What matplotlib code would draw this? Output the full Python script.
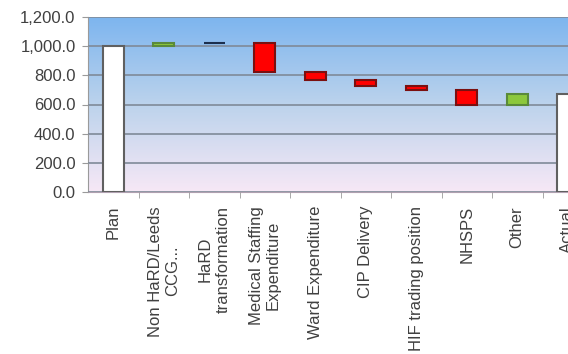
import numpy as np
import matplotlib.pyplot as plt
from matplotlib.colors import LinearSegmentedColormap

plt.rcParams['font.family'] = ['Liberation Sans', 'DejaVu Sans']

# data
categories = ["Plan", "Non HaRD/Leeds\nCCG...", "HaRD\ntransformation",
              "Medical Staffing\nExpenditure", "Ward Expenditure", "CIP Delivery",
              "HIF trading position", "NHSPS", "Other", "Actual"]
plan = 1000
changes = [25, -4, -200, -50, -45, -25, -105, 75]
actual = 671

# waterfall bottoms / heights
bottoms = [0]
heights = [plan]
level = plan
for c in changes:
    bottoms.append(level + min(c, 0))
    heights.append(abs(c))
    level += c
bottoms.append(0)
heights.append(actual)

fills = ["white"] + ["#8cc83c" if c > 0 else "#ff0000" for c in changes] + ["white"]
edges = ["#606060"] + ["#5a8a3a" if c > 0 else "#7a1010" for c in changes] + ["#606060"]
edges[2] = "#1c2f4e"

fig = plt.figure(figsize=(5.68, 3.54), dpi=100)
ax = fig.add_axes([88/568, (354-192)/354, (593-88)/568, (192-17)/354])

# gradient background
cmap = LinearSegmentedColormap.from_list("bg", ["#f7e8f6", "#bcd3ec", "#7db5ef"])
grad = np.linspace(0, 1, 256).reshape(-1, 1)
ax.imshow(grad, cmap=cmap, aspect="auto", origin="lower",
          extent=[-0.5, len(categories) - 0.5, 0, 1200], zorder=0)

x = np.arange(len(categories))
ax.bar(x, heights, bottom=bottoms, width=0.42, color=fills, edgecolor=edges,
       linewidth=1.5, zorder=3)

ax.set_xlim(-0.5, len(categories) - 0.5)
ax.set_ylim(0, 1200)
ax.set_yticks(np.arange(0, 1201, 200))
ax.set_yticklabels([f"{v:,.1f}" for v in np.arange(0, 1201, 200)])
ax.yaxis.grid(True, color="#7f8a98", linewidth=1.2, zorder=1)
ax.set_axisbelow(False)

ax.set_xticks(x)
ax.set_xticklabels(categories, rotation=90, ha="center", va="top",
                   multialignment="center")
ax.set_xticks(np.arange(0.5, len(categories) - 0.5, 1), minor=True)
ax.tick_params(axis="x", which="major", length=0, pad=10)
ax.tick_params(axis="x", which="minor", length=4, color="#9a9a9a")
ax.tick_params(axis="y", length=4, color="#9a9a9a", pad=5)
ax.tick_params(labelsize=12, labelcolor="#404040")

for s in ["top", "right"]:
    ax.spines[s].set_visible(False)
ax.spines["left"].set_color("#9a9a9a")
ax.spines["bottom"].set_color("#b0a0b0")

fig.savefig("out.png", dpi=100)
